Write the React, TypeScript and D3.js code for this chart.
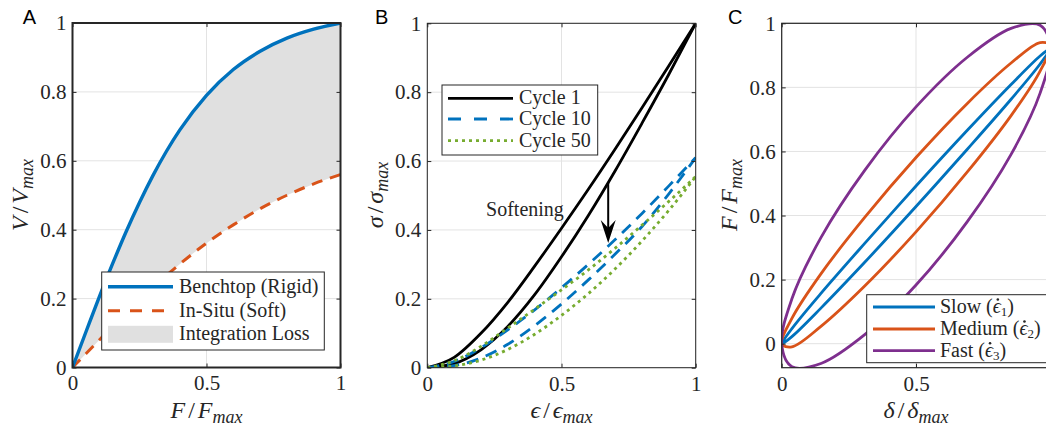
import React, { useEffect, useRef } from 'react';
import * as d3 from 'd3';

// ---------- panel A : output vs load
const forceA = [0, 0.05, 0.1, 0.15, 0.2, 0.25, 0.3, 0.35, 0.4, 0.5, 0.6, 0.7, 0.8, 0.9, 1];
const benchtopV = [0, 0.103, 0.205, 0.302, 0.394, 0.479, 0.557, 0.627, 0.689, 0.79, 0.865, 0.918, 0.956, 0.982, 1];
const inSituV = [0, 0.04, 0.08, 0.12, 0.158, 0.196, 0.232, 0.267, 0.3, 0.361, 0.414, 0.461, 0.5, 0.533, 0.56];
const legendA = ['Benchtop (Rigid)', 'In-Situ (Soft)', 'Integration Loss'];

// ---------- panel B : cyclic softening (loading / unloading branches)
const strainB = [0, 0.1, 0.2, 0.3, 0.4, 0.5, 0.6, 0.7, 0.8, 0.9, 1];
const cycle1Up = [0, 0.03, 0.1, 0.19, 0.295, 0.405, 0.518, 0.635, 0.755, 0.877, 1];
const cycle1Down = [0, 0.012, 0.052, 0.12, 0.212, 0.322, 0.442, 0.572, 0.71, 0.852, 1];
const cycle10Up = [0, 0.018, 0.058, 0.11, 0.168, 0.232, 0.3, 0.372, 0.448, 0.528, 0.61];
const cycle10Down = [0, 0.006, 0.028, 0.068, 0.122, 0.185, 0.255, 0.33, 0.41, 0.505, 0.61];
const cycle50Up = [0, 0.02, 0.062, 0.115, 0.17, 0.226, 0.284, 0.347, 0.414, 0.483, 0.555];
const cycle50Down = [0, 0.005, 0.022, 0.053, 0.097, 0.152, 0.215, 0.287, 0.368, 0.457, 0.555];
const legendB = ['Cycle 1', 'Cycle 10', 'Cycle 50'];
const arrowStrain = 0.674;
const arrowFrom = 0.536;
const arrowTo = 0.362;

// ---------- panel C : rate dependent hysteresis loops (points around each loop)
const loopDisp = [0, 0.038, 0.146, 0.309, 0.5, 0.691, 0.854, 0.962, 1, 0.962, 0.854, 0.691, 0.5, 0.309, 0.146, 0.038];
const slowForce = [-0.001, 0.022, 0.111, 0.254, 0.428, 0.607, 0.763, 0.873, 0.921, 0.898, 0.809, 0.666, 0.492, 0.313, 0.157, 0.047];
const mediumForce = [-0.001, -0.01, 0.054, 0.18, 0.349, 0.536, 0.712, 0.851, 0.931, 0.94, 0.876, 0.75, 0.581, 0.394, 0.218, 0.079];
const fastForce = [-0.001, -0.072, -0.062, 0.028, 0.183, 0.381, 0.591, 0.782, 0.923, 0.994, 0.984, 0.894, 0.739, 0.541, 0.331, 0.14];
const rateNames = ['Slow', 'Medium', 'Fast'];
const rateSubs = ['1', '2', '3'];

const ticksHalf = [0, 0.5, 1];
const ticksFifth = [0, 0.2, 0.4, 0.6, 0.8, 1];

const W = 1046;
const H = 430;
const SERIF = '"Liberation Serif", "DejaVu Serif", serif';
const SANS = '"Liberation Sans", "DejaVu Sans", sans-serif';
const INK = '#262626';
const GRID = '#e3e3e3';
const BLUE = '#0072BD';
const ORANGE = '#D95319';
const PURPLE = '#7E2F8E';
const GREEN = '#77AC30';

const fmt = (d) => String(d);

function makePanel(svg, id, box, yDomain) {
  const x = d3.scaleLinear().domain([0, 1]).range([box.left, box.right]);
  const y = d3.scaleLinear().domain(yDomain).range([box.bottom, box.top]);
  const g = svg.append('g');

  svg.append('clipPath').attr('id', id)
    .append('rect')
    .attr('x', box.left).attr('y', box.top)
    .attr('width', box.right - box.left).attr('height', box.bottom - box.top);

  return { x, y, g, box, id };
}

function drawGrid(p, xTicks, yTicks) {
  const { x, y, g, box } = p;
  g.append('g').selectAll('line').data(xTicks).join('line')
    .attr('x1', d => x(d)).attr('x2', d => x(d))
    .attr('y1', box.top).attr('y2', box.bottom)
    .attr('stroke', GRID).attr('stroke-width', 1);
  g.append('g').selectAll('line').data(yTicks).join('line')
    .attr('x1', box.left).attr('x2', box.right)
    .attr('y1', d => y(d)).attr('y2', d => y(d))
    .attr('stroke', GRID).attr('stroke-width', 1);
  return g.append('g').attr('clip-path', `url(#${p.id})`);
}

function drawAxes(p, xTicks, yTicks, frameWidth) {
  const { x, y, g, box } = p;

  const style = (sel) => {
    sel.select('.domain').remove();
    sel.selectAll('line').attr('stroke', INK).attr('stroke-width', 1);
    sel.selectAll('text')
      .style('font-family', SERIF).style('font-size', '21px').attr('fill', INK);
  };

  g.append('g').attr('transform', `translate(0,${box.bottom})`)
    .call(d3.axisBottom(x).tickValues(xTicks).tickSize(-4).tickPadding(8).tickFormat(fmt))
    .call(style);
  g.append('g').attr('transform', `translate(${box.left},0)`)
    .call(d3.axisLeft(y).tickValues(yTicks).tickSize(-4).tickPadding(6).tickFormat(fmt))
    .call(style);
  g.append('g').attr('transform', `translate(0,${box.top})`)
    .call(d3.axisTop(x).tickValues(xTicks).tickSize(-4).tickFormat(() => ''))
    .call(style);
  g.append('g').attr('transform', `translate(${box.right},0)`)
    .call(d3.axisRight(y).tickValues(yTicks).tickSize(-4).tickFormat(() => ''))
    .call(style);

  g.append('rect')
    .attr('x', box.left).attr('y', box.top)
    .attr('width', box.right - box.left).attr('height', box.bottom - box.top)
    .attr('fill', 'none').attr('stroke', INK).attr('stroke-width', frameWidth);
}

function mathLabel(g, cx, cy, rotate, num, den) {
  const t = g.append('text')
    .attr('transform', `translate(${cx},${cy}) rotate(${rotate})`)
    .attr('text-anchor', 'middle')
    .style('font-family', SERIF).style('font-size', '24px').attr('fill', INK);
  t.append('tspan').style('font-style', 'italic').text(num);
  t.append('tspan').attr('dx', 3).text('/');
  t.append('tspan').attr('dx', 3).style('font-style', 'italic').text(den);
  t.append('tspan').style('font-style', 'italic').style('font-size', '18px').attr('dy', 5).text('max');
}

function legendBox(g, left, top, width, height) {
  g.append('rect')
    .attr('x', left).attr('y', top).attr('width', width).attr('height', height)
    .attr('fill', '#fff').attr('stroke', INK).attr('stroke-width', 1);
}

function legendText(g, x, y) {
  return g.append('text')
    .attr('x', x).attr('y', y + 6)
    .style('font-family', SERIF).style('font-size', '20px').attr('fill', INK);
}

function panelLetter(svg, x, y, letter) {
  svg.append('text').attr('x', x).attr('y', y)
    .style('font-family', SANS).style('font-size', '20px').attr('fill', '#000')
    .text(letter);
}

const App = () => {
  const svgRef = useRef(null);

  useEffect(() => {
    const svg = d3.select(svgRef.current);
    svg.selectAll('*').remove();

    // ===================== A
    const A = makePanel(svg, 'clipA', { left: 72.5, right: 340.5, top: 23, bottom: 367.5 }, [0, 1]);
    const plotA = drawGrid(A, ticksHalf, ticksFifth);
    const ptsA = forceA.map((f, i) => ({ f, hi: benchtopV[i], lo: inSituV[i] }));

    plotA.append('path')
      .datum(ptsA)
      .attr('fill', '#e0e0e0')
      .attr('d', d3.area().x(d => A.x(d.f)).y0(d => A.y(d.lo)).y1(d => A.y(d.hi)).curve(d3.curveMonotoneX));

    plotA.append('path')
      .datum(ptsA)
      .attr('fill', 'none').attr('stroke', ORANGE).attr('stroke-width', 3)
      .attr('stroke-dasharray', '11,8')
      .attr('d', d3.line().x(d => A.x(d.f)).y(d => A.y(d.lo)).curve(d3.curveMonotoneX));

    plotA.append('path')
      .datum(ptsA)
      .attr('fill', 'none').attr('stroke', BLUE).attr('stroke-width', 3.4)
      .attr('d', d3.line().x(d => A.x(d.f)).y(d => A.y(d.hi)).curve(d3.curveMonotoneX));

    drawAxes(A, ticksHalf, ticksFifth, 2);
    mathLabel(svg, 206.5, 418, 0, 'F', 'F');
    mathLabel(svg, 28, 195, -90, 'V', 'V');

    legendBox(svg, 101.7, 272, 222.6, 78);
    const rowsA = [286.7, 310.7, 334.3];
    svg.append('line').attr('x1', 108).attr('x2', 173).attr('y1', rowsA[0]).attr('y2', rowsA[0])
      .attr('stroke', BLUE).attr('stroke-width', 3.4);
    svg.append('line').attr('x1', 108).attr('x2', 173).attr('y1', rowsA[1]).attr('y2', rowsA[1])
      .attr('stroke', ORANGE).attr('stroke-width', 3).attr('stroke-dasharray', '12,10');
    svg.append('rect').attr('x', 108).attr('y', rowsA[2] - 8.5).attr('width', 65).attr('height', 17)
      .attr('fill', '#e0e0e0');
    legendA.forEach((label, i) => legendText(svg, 179, rowsA[i]).text(label));

    // ===================== B
    const B = makePanel(svg, 'clipB', { left: 427.3, right: 695.7, top: 23.3, bottom: 367.7 }, [0, 1]);
    const plotB = drawGrid(B, ticksHalf, ticksFifth);
    const loopLine = d3.line().x(d => B.x(d[0])).y(d => B.y(d[1])).curve(d3.curveMonotoneX);
    const branch = (ys) => strainB.map((s, i) => [s, ys[i]]);

    const cycles = [
      { up: cycle1Up, down: cycle1Down, color: '#000', dash: null, legendDash: null },
      { up: cycle10Up, down: cycle10Down, color: BLUE, dash: '12,8', legendDash: '13,13' },
      { up: cycle50Up, down: cycle50Down, color: GREEN, dash: '3,4', legendDash: '3,4' },
    ];
    cycles.forEach(c => {
      [c.up, c.down].forEach(ys => {
        plotB.append('path')
          .attr('fill', 'none').attr('stroke', c.color).attr('stroke-width', 2.8)
          .attr('stroke-dasharray', c.dash)
          .attr('d', loopLine(branch(ys)));
      });
    });

    // softening arrow
    const ax = B.x(arrowStrain);
    const tip = B.y(arrowTo);
    plotB.append('line')
      .attr('x1', ax).attr('x2', ax).attr('y1', B.y(arrowFrom)).attr('y2', tip - 12)
      .attr('stroke', '#000').attr('stroke-width', 2);
    plotB.append('path')
      .attr('d', `M${ax},${tip} L${ax - 7.5},${tip - 23} L${ax},${tip - 15} L${ax + 7.5},${tip - 23} Z`)
      .attr('fill', '#000');
    svg.append('text')
      .attr('x', B.x(0.219)).attr('y', B.y(0.44))
      .style('font-family', SERIF).style('font-size', '20px').attr('fill', INK)
      .text('Softening');

    drawAxes(B, ticksHalf, ticksFifth, 1);
    mathLabel(svg, 561.5, 418, 0, '\u03F5', '\u03F5');
    mathLabel(svg, 383, 195, -90, '\u03C3', '\u03C3');

    legendBox(svg, 442, 85, 155.7, 70);
    const rowsB = [98.3, 119, 140.7];
    cycles.forEach((c, i) => {
      svg.append('line').attr('x1', 448).attr('x2', 513).attr('y1', rowsB[i]).attr('y2', rowsB[i])
        .attr('stroke', c.color).attr('stroke-width', 2.8)
        .attr('stroke-dasharray', c.legendDash);
      legendText(svg, 519, rowsB[i]).text(legendB[i]);
    });

    // ===================== C
    const C = makePanel(svg, 'clipC', { left: 781.7, right: 1050.3, top: 23.3, bottom: 367.7 }, [-0.075, 1]);
    const plotC = drawGrid(C, ticksHalf, ticksFifth);
    const closed = d3.line().x(d => C.x(d[0])).y(d => C.y(d[1])).curve(d3.curveCatmullRomClosed);
    const loops = [
      { force: slowForce, color: BLUE },
      { force: mediumForce, color: ORANGE },
      { force: fastForce, color: PURPLE },
    ];
    loops.forEach(l => {
      plotC.append('path')
        .attr('fill', 'none').attr('stroke', l.color).attr('stroke-width', 2.8)
        .attr('d', closed(loopDisp.map((d, i) => [d, l.force[i]])));
    });

    drawAxes(C, [0, 0.5], ticksFifth, 1.2);
    mathLabel(svg, 916, 418, 0, '\u03B4', '\u03B4');
    mathLabel(svg, 737, 195, -90, 'F', 'F');

    legendBox(svg, 866.7, 294.7, 185, 68);
    const rowsC = [307, 329, 350.7];
    loops.forEach((l, i) => {
      svg.append('line').attr('x1', 873).attr('x2', 935).attr('y1', rowsC[i]).attr('y2', rowsC[i])
        .attr('stroke', l.color).attr('stroke-width', 2.8);
      const prefix = `${rateNames[i]} (`;
      const t = legendText(svg, 940, rowsC[i]);
      t.append('tspan').text(prefix);
      t.append('tspan').style('font-style', 'italic').text('\u03F5');
      t.append('tspan').style('font-size', '13px').attr('dy', 3).text(rateSubs[i]);
      t.append('tspan').attr('dy', -3).text(')');
      // dot accent over the epsilon
      const node = t.node();
      let dotX = 940 + prefix.length * 9;
      try {
        const s = node.getStartPositionOfChar(prefix.length);
        const e = node.getEndPositionOfChar(prefix.length);
        dotX = (s.x + e.x) / 2 + 1;
      } catch (err) { /* keep estimate */ }
      svg.append('circle').attr('cx', dotX).attr('cy', rowsC[i] - 7.5).attr('r', 1.3).attr('fill', INK);
    });

    panelLetter(svg, 22.7, 24, 'A');
    panelLetter(svg, 375, 24, 'B');
    panelLetter(svg, 728, 24, 'C');
  }, []);

  return (
    <svg
      ref={svgRef}
      width={W}
      height={H}
      style={{ position: 'absolute', left: 0, top: 0, background: '#fff' }}
    />
  );
};

export default App;
